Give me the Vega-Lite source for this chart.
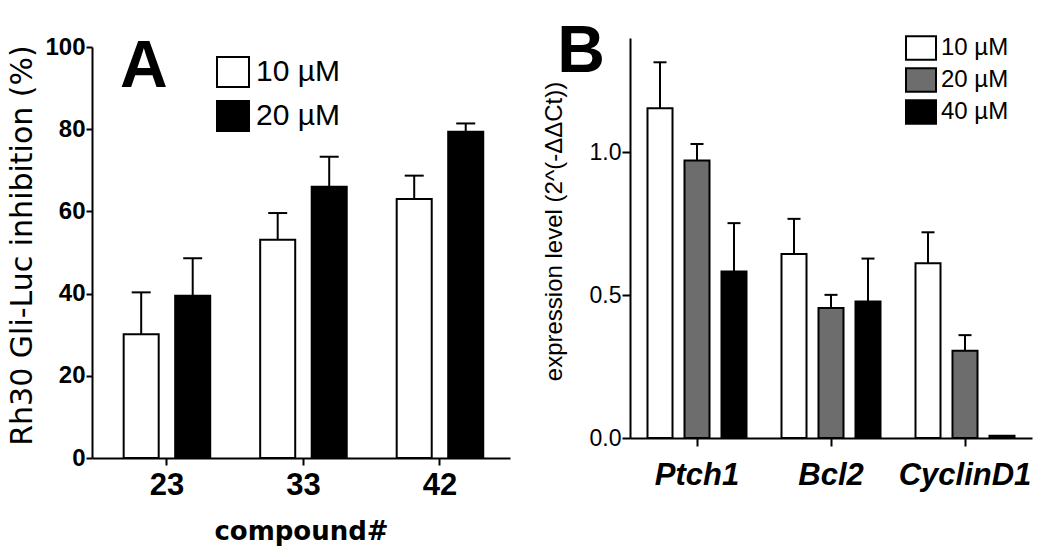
{
  "$schema": "https://vega.github.io/schema/vega-lite/v6.json",
  "width": 1050,
  "height": 557,
  "padding": 0,
  "autosize": {"type": "none"},
  "background": "white",
  "config": {
    "view": {"stroke": null},
    "font": "Liberation Sans",
    "axis": {
      "grid": false,
      "domainColor": "black",
      "domainWidth": 2,
      "tickColor": "black",
      "tickWidth": 2,
      "labelColor": "black",
      "titleColor": "black",
      "labelFont": "Liberation Sans",
      "titleFont": "Liberation Sans"
    },
    "legend": {
      "labelFont": "Liberation Sans",
      "labelColor": "black",
      "padding": 0
    }
  },
  "layer": [
    {
      "data": {
        "values": [
          {"compound": "23", "conc": "10 µM", "value": 30.1, "upper": 40.3},
          {"compound": "23", "conc": "20 µM", "value": 39.5, "upper": 48.6},
          {"compound": "33", "conc": "10 µM", "value": 53.1, "upper": 59.6},
          {"compound": "33", "conc": "20 µM", "value": 66.0, "upper": 73.3},
          {"compound": "42", "conc": "10 µM", "value": 63.0, "upper": 68.7},
          {"compound": "42", "conc": "20 µM", "value": 79.4, "upper": 81.4}
        ]
      },
      "layer": [
        {
          "mark": {"type": "bar", "stroke": "black", "strokeWidth": 2, "opacity": 1},
          "encoding": {
            "x": {
              "field": "compound", "type": "nominal", "title": "compound#",
              "scale": {"domain": ["23", "33", "42"], "range": [92, 510], "paddingInner": 0, "paddingOuter": 0.031, "align": 0.79},
              "axis": {
                "orient": "bottom", "offset": -99, "labelAngle": 0,
                "labelFontSize": 31, "labelFontWeight": "bold", "labelPadding": 5, "tickSize": 7,
                "titleFont": "DejaVu Sans", "titleFontSize": 26, "titleFontWeight": "bold", "titlePadding": 18
              }
            },
            "xOffset": {
              "field": "conc", "type": "nominal",
              "scale": {"domain": ["10 µM", "20 µM"], "paddingInner": 0.32, "paddingOuter": 0.485}
            },
            "y": {
              "field": "value", "type": "quantitative", "title": "Rh30 Gli-Luc inhibition (%)",
              "scale": {"domain": [0, 100], "range": [458, 47], "nice": false},
              "axis": {
                "orient": "left", "offset": -92, "values": [0, 20, 40, 60, 80, 100],
                "labelFontSize": 24, "labelFontWeight": "bold", "labelPadding": 1, "tickSize": 6,
                "titleFont": "DejaVu Sans", "titleFontSize": 30, "titleFontWeight": "normal", "titlePadding": 7, "titleY": 245
              }
            },
            "fill": {
              "field": "conc", "type": "nominal",
              "scale": {"domain": ["10 µM", "20 µM"], "range": ["white", "black"]},
              "legend": {
                "orient": "none", "legendX": 216, "legendY": 55, "title": null,
                "symbolType": "M-1,-0.94H1V0.94H-1Z", "symbolSize": 1024,
                "symbolStrokeColor": "black", "symbolStrokeWidth": 2, "symbolOpacity": 1,
                "labelFontSize": 30, "labelOffset": 6, "rowPadding": 4
              }
            }
          }
        },
        {
          "transform": [{"filter": "isValid(datum.upper)"}],
          "mark": {"type": "rule", "color": "black", "strokeWidth": 2},
          "encoding": {
            "x": {"field": "compound", "type": "nominal", "title": "compound#"},
            "xOffset": {"field": "conc", "type": "nominal"},
            "y": {"field": "value", "type": "quantitative", "title": "Rh30 Gli-Luc inhibition (%)"},
            "y2": {"field": "upper", "title": "Rh30 Gli-Luc inhibition (%)"}
          }
        },
        {
          "transform": [{"filter": "isValid(datum.upper)"}],
          "mark": {"type": "tick", "orient": "horizontal", "size": 19, "thickness": 2, "color": "black", "opacity": 1},
          "encoding": {
            "x": {"field": "compound", "type": "nominal", "title": "compound#"},
            "xOffset": {"field": "conc", "type": "nominal"},
            "y": {"field": "upper", "type": "quantitative", "title": "Rh30 Gli-Luc inhibition (%)"}
          }
        },
        {
          "data": {"values": [{"label": "A"}]},
          "mark": {"type": "text", "font": "Liberation Sans", "fontSize": 66, "fontWeight": "bold", "baseline": "alphabetic", "align": "center", "dx": -23, "color": "black"},
          "encoding": {
            "x": {"datum": "23"},
            "y": {"datum": 90.3},
            "text": {"field": "label"}
          }
        }
      ]
    },
    {
      "data": {
        "values": [
          {"gene": "Ptch1", "conc": "10 µM", "value": 1.154, "upper": 1.315},
          {"gene": "Ptch1", "conc": "20 µM", "value": 0.971, "upper": 1.029},
          {"gene": "Ptch1", "conc": "40 µM", "value": 0.583, "upper": 0.752},
          {"gene": "Bcl2", "conc": "10 µM", "value": 0.644, "upper": 0.767},
          {"gene": "Bcl2", "conc": "20 µM", "value": 0.455, "upper": 0.501},
          {"gene": "Bcl2", "conc": "40 µM", "value": 0.478, "upper": 0.628},
          {"gene": "CyclinD1", "conc": "10 µM", "value": 0.612, "upper": 0.720},
          {"gene": "CyclinD1", "conc": "20 µM", "value": 0.305, "upper": 0.360},
          {"gene": "CyclinD1", "conc": "40 µM", "value": 0.008, "upper": null}
        ]
      },
      "layer": [
        {
          "mark": {"type": "bar", "stroke": "black", "strokeWidth": 2, "opacity": 1},
          "encoding": {
            "x": {
              "field": "gene", "type": "nominal", "title": null,
              "scale": {"domain": ["Ptch1", "Bcl2", "CyclinD1"], "range": [630, 1032], "paddingInner": 0, "paddingOuter": 0},
              "axis": {
                "orient": "bottom", "offset": -119, "labelAngle": 0,
                "labelFontSize": 31, "labelFontWeight": "bold", "labelFontStyle": "italic", "labelPadding": 14, "tickSize": 8
              }
            },
            "xOffset": {
              "field": "conc", "type": "nominal",
              "scale": {"domain": ["10 µM", "20 µM", "40 µM"], "paddingInner": 0.324, "paddingOuter": 0.473}
            },
            "y": {
              "field": "value", "type": "quantitative", "title": "expression level (2^(-ΔΔCt))",
              "scale": {"domain": [0, 1.4], "range": [438, 38], "nice": false},
              "axis": {
                "orient": "left", "offset": -630, "values": [0, 0.5, 1], "format": ".1f",
                "labelFontSize": 23, "labelFontWeight": "normal", "labelPadding": 1, "tickSize": 8,
                "titleFontSize": 24, "titleFontWeight": "normal", "titlePadding": 23, "titleY": 231
              }
            },
            "fill": {
              "field": "conc", "type": "nominal",
              "scale": {"domain": ["10 µM", "20 µM", "40 µM"], "range": ["white", "#6d6d6d", "black"]},
              "legend": {
                "orient": "none", "legendX": 905, "legendY": 32, "title": null,
                "symbolType": "M-1,-0.78H1V0.78H-1Z", "symbolSize": 900,
                "symbolStrokeColor": "black", "symbolStrokeWidth": 2, "symbolOpacity": 1,
                "labelFontSize": 24, "labelOffset": 4, "rowPadding": -1
              }
            }
          }
        },
        {
          "transform": [{"filter": "isValid(datum.upper)"}],
          "mark": {"type": "rule", "color": "black", "strokeWidth": 2},
          "encoding": {
            "x": {"field": "gene", "type": "nominal", "title": null},
            "xOffset": {"field": "conc", "type": "nominal"},
            "y": {"field": "value", "type": "quantitative", "title": "expression level (2^(-ΔΔCt))"},
            "y2": {"field": "upper", "title": "expression level (2^(-ΔΔCt))"}
          }
        },
        {
          "transform": [{"filter": "isValid(datum.upper)"}],
          "mark": {"type": "tick", "orient": "horizontal", "size": 13, "thickness": 2, "color": "black", "opacity": 1},
          "encoding": {
            "x": {"field": "gene", "type": "nominal", "title": null},
            "xOffset": {"field": "conc", "type": "nominal"},
            "y": {"field": "upper", "type": "quantitative", "title": "expression level (2^(-ΔΔCt))"}
          }
        },
        {
          "data": {"values": [{"label": "B"}]},
          "mark": {"type": "text", "font": "Liberation Sans", "fontSize": 66, "fontWeight": "bold", "baseline": "alphabetic", "align": "center", "dx": -116, "color": "black"},
          "encoding": {
            "x": {"datum": "Ptch1"},
            "y": {"datum": 1.28},
            "text": {"field": "label"}
          }
        }
      ]
    }
  ],
  "resolve": {
    "scale": {"x": "independent", "y": "independent", "xOffset": "independent", "fill": "independent"},
    "axis": {"x": "independent", "y": "independent"},
    "legend": {"fill": "independent"}
  }
}
